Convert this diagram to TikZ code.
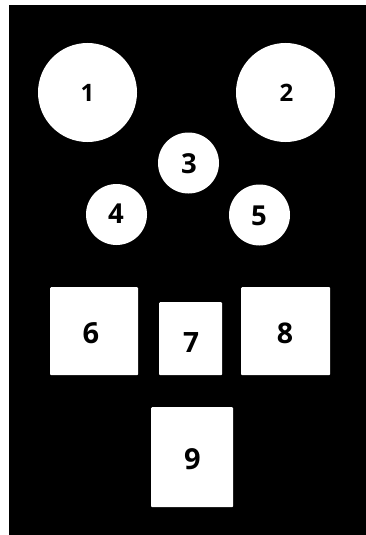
\documentclass[tikz,border=0pt]{standalone}
\usepackage{fontspec}
\setmainfont{Open Sans}
\begin{document}
\begin{tikzpicture}[x=1pt,y=-1pt,
  circ/.style={circle,fill=white,draw=none,inner sep=0pt},
  box/.style={rectangle,fill=white,draw=none,rounded corners=1pt,inner sep=0pt,anchor=north west},
  num/.style={text=black,font=\bfseries,inner sep=0pt,anchor=center}]
\useasboundingbox (0,0) rectangle (366,535);
\fill[white] (0,0) rectangle (366,535);
\fill[black] (9,5) rectangle (366,535);
% circles
\node[circ,minimum size=99pt] (c1) at (87.5,92.5) {};
\node[circ,minimum size=99pt] (c2) at (285.5,92.5) {};
\node[circ,minimum size=61pt] (c3) at (188.5,163) {};
\node[circ,minimum size=61pt] (c4) at (116.5,214.5) {};
\node[circ,minimum size=61pt] (c5) at (259.5,215) {};
% boxes
\node[box,minimum width=88pt,minimum height=88pt] (r6) at (50,287) {};
\node[box,minimum width=63pt,minimum height=73pt] (r7) at (159,302) {};
\node[box,minimum width=89pt,minimum height=88pt] (r8) at (241,287) {};
\node[box,minimum width=82pt,minimum height=100pt] (r9) at (151,407) {};
% labels
\node[num,font=\bfseries\fontsize{24}{26}\selectfont] (l1) at (87.5,92.5) {1};
\node[num,font=\bfseries\fontsize{24}{26}\selectfont] (l2) at (286.5,92.5) {2};
\node[num,font=\bfseries\fontsize{27.5}{30}\selectfont] (l3) at (189,164) {3};
\node[num,font=\bfseries\fontsize{27.5}{30}\selectfont] (l4) at (116,214) {4};
\node[num,font=\bfseries\fontsize{27.5}{30}\selectfont] (l5) at (259,215.5) {5};
\node[num,font=\bfseries\fontsize{29}{31}\selectfont] (l6) at (91,333.5) {6};
\node[num,font=\bfseries\fontsize{28}{30}\selectfont] (l7) at (191,343) {7};
\node[num,font=\bfseries\fontsize{28.5}{30}\selectfont] (l8) at (285,333) {8};
\node[num,font=\bfseries\fontsize{29}{31}\selectfont] (l9) at (192.5,459.5) {9};
\end{tikzpicture}
\end{document}
